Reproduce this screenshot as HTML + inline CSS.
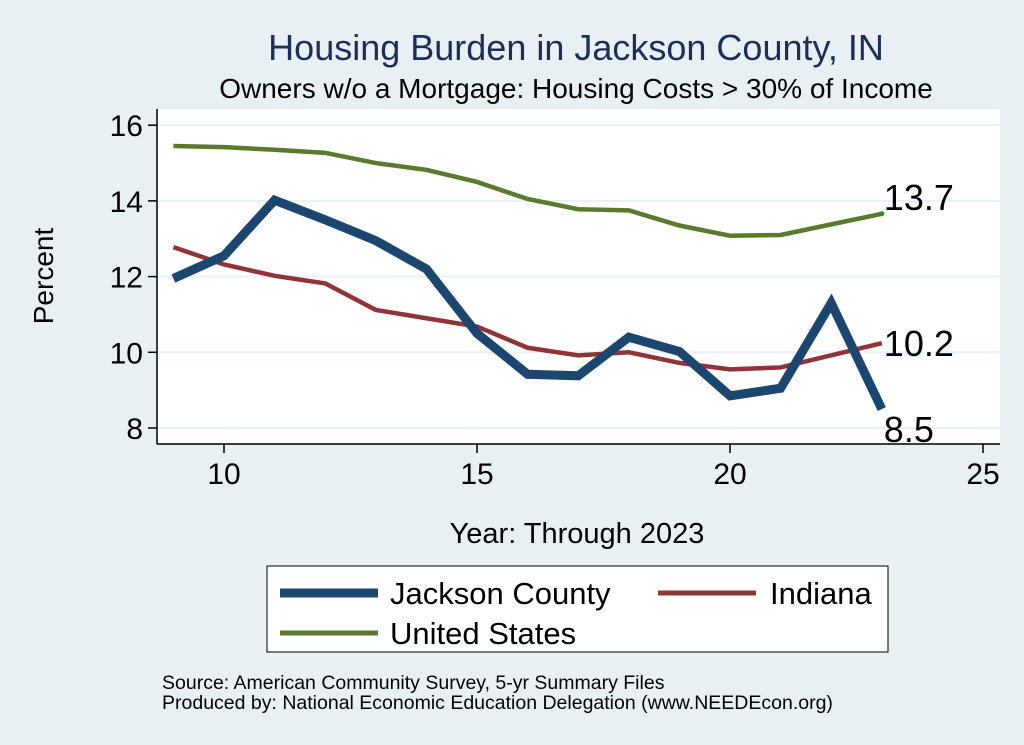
<!DOCTYPE html>
<html><head><meta charset="utf-8"><style>
body{margin:0;background:#e9f0f3;}
svg{display:block;font-family:"Liberation Sans",sans-serif;}
</style></head><body>
<svg id="chart" width="1024" height="745">
<rect x="0" y="0" width="1024" height="745" fill="#e9f0f3"/>
<text x="576" y="60" font-size="36" fill="#1a2f5a" text-anchor="middle">Housing Burden in Jackson County, IN</text>
<text x="576" y="98" font-size="28" fill="#000" text-anchor="middle">Owners w/o a Mortgage: Housing Costs &gt; 30% of Income</text>
<rect x="157" y="109" width="843" height="335" fill="#fff"/>
<g id="grid"></g>
<line x1="157" y1="109" x2="157" y2="444" stroke="#000" stroke-width="1.5"/>
<line x1="157" y1="444" x2="1000" y2="444" stroke="#000" stroke-width="1.5"/>
<g id="axes"></g>
<g id="series"></g>
<text x="53" y="276" font-size="28" text-anchor="middle" transform="rotate(-90 53 276)">Percent</text>
<text x="577" y="543" font-size="29" text-anchor="middle">Year: Through 2023</text>
<g>
<rect x="267" y="566" width="621" height="86" fill="#fff" stroke="#000" stroke-width="1"/>
<line x1="280" y1="593" x2="378" y2="593" stroke="#1b4670" stroke-width="9"/>
<text x="390" y="604" font-size="31">Jackson County</text>
<line x1="658" y1="593" x2="756" y2="593" stroke="#8f3439" stroke-width="5"/>
<text x="770" y="604" font-size="31">Indiana</text>
<line x1="280" y1="633" x2="378" y2="633" stroke="#5a7a2e" stroke-width="5"/>
<text x="390" y="644" font-size="31">United States</text>
</g>
<text x="162" y="689" font-size="19.5">Source: American Community Survey, 5-yr Summary Files</text>
<text x="162" y="709" font-size="19.5">Produced by: National Economic Education Delegation (www.NEEDEcon.org)</text>
</svg>
<script>
const years=[9,10,11,12,13,14,15,16,17,18,19,20,21,22,23];
const jackson=[11.95,12.55,14.02,13.5,12.95,12.2,10.5,9.42,9.38,10.4,10.02,8.85,9.05,11.3,8.5];
const indiana=[12.78,12.32,12.02,11.82,11.12,10.9,10.68,10.12,9.92,10.0,9.72,9.55,9.6,9.92,10.24];
const us=[15.45,15.42,15.35,15.27,15.0,14.82,14.5,14.05,13.78,13.75,13.35,13.08,13.1,13.38,13.66];
const yTicks=[8,10,12,14,16];
const xTicks=[10,15,20,25];
const endLabels=["8.5","10.2","13.7"];
const NS="http://www.w3.org/2000/svg";
const X=v=>224+(v-10)*50.6;
const Y=v=>428-(v-8)*37.85;
const grid=document.getElementById('grid'),axes=document.getElementById('axes'),ser=document.getElementById('series');
function mk(t,a,p){const e=document.createElementNS(NS,t);for(const k in a)e.setAttribute(k,a[k]);p.appendChild(e);return e;}
yTicks.forEach(t=>{
 const g=mk('line',{x1:157,x2:1000,y1:Y(t),y2:Y(t),stroke:'#eaf0f3','stroke-width':2},grid);
 
 
 mk('line',{x1:148,x2:157,y1:Y(t),y2:Y(t),stroke:'#000','stroke-width':1.5},axes);
 const tx=mk('text',{x:143,y:Y(t)+11,'font-size':30,'text-anchor':'end'},axes);tx.textContent=t;
 
 
});
xTicks.forEach(t=>{
 mk('line',{x1:X(t),x2:X(t),y1:444,y2:453,stroke:'#000','stroke-width':1.5},axes);
 const tx=mk('text',{x:X(t),y:484,'font-size':30,'text-anchor':'middle'},axes);tx.textContent=t;
 
 
});
function line(data,color,w,name){
 const p=mk('polyline',{points:data.map((v,i)=>X(years[i])+','+Y(v)).join(' '),fill:'none',stroke:color,'stroke-width':w,'stroke-linejoin':'miter'},ser);
 
 
}
line(us,'#5a7a2e',4.5,'us-line');
line(indiana,'#8f3439',4.5,'indiana-line');
line(jackson,'#1b4670',9,'jackson-line');
const last=years.length-1;
mk('circle',{cx:X(years[last]),cy:Y(us[last]),r:2.5,fill:'#1a9a1a'},ser);
[[jackson,endLabels[0],33],[indiana,endLabels[1],13],[us,endLabels[2],-4]].forEach(([d,l,dy])=>{
 const tx=mk('text',{x:X(years[last])+2,y:Y(d[last])+dy,'font-size':36},ser);tx.textContent=l;
 
 
});
</script>
</body></html>
